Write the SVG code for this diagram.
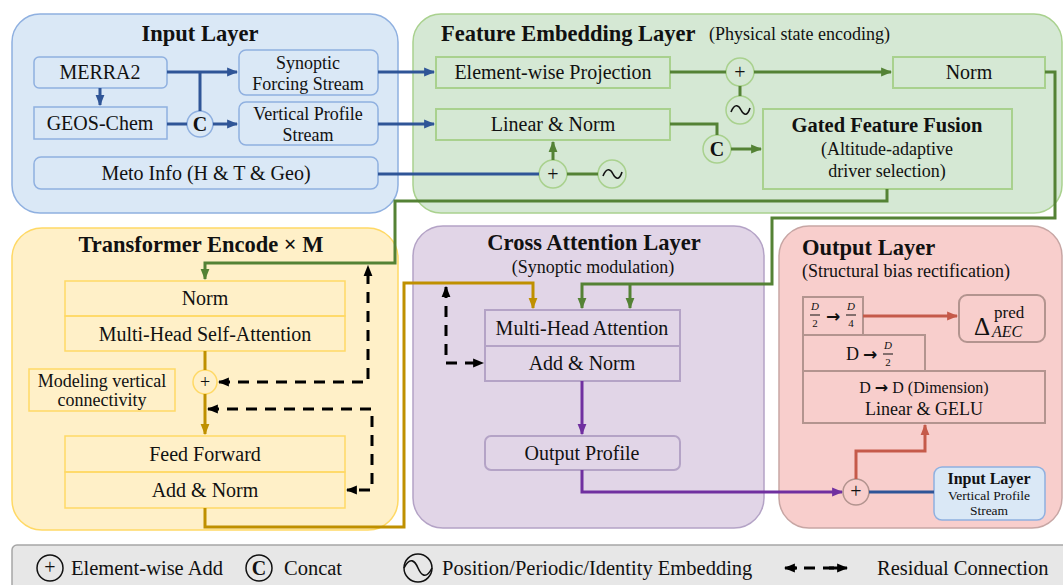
<svg xmlns="http://www.w3.org/2000/svg" width="1063" height="585" viewBox="0 0 1063 585" font-family="'Liberation Serif', Tinos, 'Times New Roman', 'DejaVu Serif', serif">
<defs>
<style>
text{font-family:'Liberation Serif',Tinos,'Times New Roman','DejaVu Serif',serif;fill:#111}
.t{font-size:22.5px;font-weight:bold}
.b{font-size:20px;text-anchor:middle}
.b18{font-size:18px;text-anchor:middle}
.s{font-size:18px}
.m{text-anchor:middle}
.lgd{font-size:20.5px}
.blue{fill:#dae8f6;stroke:#8fb0e0;stroke-width:1.5}
.green{fill:#d5e8d4;stroke:#a9d18e;stroke-width:1.5}
.yel{fill:#fff0c8;stroke:#ffd966;stroke-width:1.5}
.pur{fill:#e1d5e7;stroke:#b4a3c6;stroke-width:1.5}
.red{fill:#f8cecc;stroke:#c7a6a4;stroke-width:1.5}
.gbox{fill:none;stroke:#a9d18e;stroke-width:2}
.ybox{fill:none;stroke:#ffd966;stroke-width:1.5}
.pbox{fill:none;stroke:#b4a3c6;stroke-width:2}
.rbox{fill:none;stroke:#b3948f;stroke-width:2}
.lb{fill:none;stroke:#2f5597;stroke-width:3}
.lg{fill:none;stroke:#548235;stroke-width:3}
.ly{fill:none;stroke:#bf9000;stroke-width:3}
.lp{fill:none;stroke:#7030a0;stroke-width:3}
.lr{fill:none;stroke:#c55a4a;stroke-width:3}
.ld{fill:none;stroke:#000;stroke-width:3;stroke-dasharray:11 8}
.wave{fill:none;stroke:#111;stroke-width:1.6}
.arr{font-family:'DejaVu Sans',sans-serif;font-weight:bold}
</style>
<marker id="ab" viewBox="0 0 10 10" refX="9" refY="5" markerWidth="11" markerHeight="11" markerUnits="userSpaceOnUse" orient="auto-start-reverse"><path d="M0,1 L10,5 L0,9 z" fill="#2f5597"/></marker>
<marker id="ag" viewBox="0 0 10 10" refX="9" refY="5" markerWidth="11" markerHeight="11" markerUnits="userSpaceOnUse" orient="auto-start-reverse"><path d="M0,1 L10,5 L0,9 z" fill="#548235"/></marker>
<marker id="ay" viewBox="0 0 10 10" refX="9" refY="5" markerWidth="11" markerHeight="11" markerUnits="userSpaceOnUse" orient="auto-start-reverse"><path d="M0,1 L10,5 L0,9 z" fill="#bf9000"/></marker>
<marker id="ap" viewBox="0 0 10 10" refX="9" refY="5" markerWidth="11" markerHeight="11" markerUnits="userSpaceOnUse" orient="auto-start-reverse"><path d="M0,1 L10,5 L0,9 z" fill="#7030a0"/></marker>
<marker id="ar" viewBox="0 0 10 10" refX="9" refY="5" markerWidth="11" markerHeight="11" markerUnits="userSpaceOnUse" orient="auto-start-reverse"><path d="M0,1 L10,5 L0,9 z" fill="#c55a4a"/></marker>
<marker id="ak" viewBox="0 0 10 10" refX="9" refY="5" markerWidth="11" markerHeight="11" markerUnits="userSpaceOnUse" orient="auto-start-reverse"><path d="M0,1 L10,5 L0,9 z" fill="#000"/></marker>
</defs>

<!-- Panels -->
<g id="input-layer">
<rect x="12" y="14" width="386" height="199" rx="28" class="blue"/>
<text x="200" y="41" class="t m">Input Layer</text>
</g>
<g id="feature-embedding-layer">
<rect x="413" y="14" width="649" height="199" rx="28" class="green"/>
<text x="441" y="41" class="t">Feature Embedding Layer</text>
<text x="709" y="40" class="s">(Physical state encoding)</text>
</g>
<g id="transformer-encoder">
<rect x="12" y="228" width="386" height="302" rx="30" class="yel"/>
<text x="201" y="252" class="t m">Transformer Encode × M</text>
</g>
<g id="cross-attention-layer">
<rect x="413" y="226" width="351" height="302" rx="30" class="pur"/>
<text x="594" y="250" class="t m">Cross Attention Layer</text>
<text x="593" y="273" class="s m">(Synoptic modulation)</text>
</g>
<g id="output-layer">
<rect x="779" y="226" width="283" height="302" rx="30" class="red"/>
<text x="802" y="255" class="t">Output Layer</text>
<text x="802" y="277" class="s">(Structural bias rectification)</text>
</g>

<!-- Input layer nodes -->
<g id="merra2"><rect x="34" y="57" width="133" height="31" rx="5" class="blue"/><text x="100" y="79" class="b">MERRA2</text></g>
<g id="geos-chem"><rect x="34" y="107" width="133" height="32" class="blue"/><text x="100" y="130" class="b">GEOS-Chem</text></g>
<g id="synoptic-stream"><rect x="239" y="50" width="139" height="45" rx="7" class="blue"/><text x="308" y="69" class="b18">Synoptic</text><text x="308" y="90" class="b18">Forcing Stream</text></g>
<g id="vertical-stream"><rect x="239" y="102" width="139" height="43" rx="7" class="blue"/><text x="308" y="120" class="b18">Vertical Profile</text><text x="308" y="141" class="b18">Stream</text></g>
<g id="meto-info"><rect x="34" y="157" width="344" height="32" rx="7" class="blue"/><text x="206" y="180" class="b">Meto Info (H &amp; T &amp; Geo)</text></g>
<g id="concat-1"><circle cx="200" cy="124" r="13" class="blue"/><text x="200" y="131" class="m" style="font-size:20px;font-weight:bold">C</text></g>

<!-- Feature embedding nodes -->
<g id="elementwise-projection"><rect x="436" y="57" width="234" height="31" class="gbox"/><text x="553" y="79" class="b">Element-wise Projection</text></g>
<g id="add-1"><circle cx="740" cy="72" r="14" class="green"/><text x="740" y="79" class="b">+</text></g>
<g id="embed-1"><circle cx="740" cy="110" r="14" class="green"/><path d="M731,112 C735,102 739,106 741,110 C743,114 747,118 750,108" class="wave"/></g>
<g id="norm-fe"><rect x="893" y="57" width="152" height="31" class="gbox"/><text x="969" y="79" class="b">Norm</text></g>
<g id="linear-norm"><rect x="436" y="109" width="234" height="31" class="gbox"/><text x="553" y="131" class="b">Linear &amp; Norm</text></g>
<g id="concat-2"><circle cx="717" cy="149" r="14" class="green"/><text x="717" y="156" class="m" style="font-size:20px;font-weight:bold">C</text></g>
<g id="gated-fusion"><rect x="763" y="109" width="249" height="80" class="gbox"/><text x="887" y="132" class="m" style="font-size:20.5px;font-weight:bold">Gated Feature Fusion</text><text x="887" y="155" class="s m">(Altitude-adaptive</text><text x="887" y="177" class="s m">driver selection)</text></g>
<g id="add-2"><circle cx="553" cy="174" r="14" class="green"/><text x="553" y="181" class="b">+</text></g>
<g id="embed-2"><circle cx="612" cy="174" r="14" class="green"/><path d="M603,176 C607,166 611,170 613,174 C615,178 619,182 622,172" class="wave"/></g>

<!-- Transformer nodes -->
<g id="norm-tr"><rect x="65" y="281" width="280" height="35" class="ybox"/><text x="205" y="305" class="b">Norm</text></g>
<g id="mhsa"><rect x="65" y="316" width="280" height="35" class="ybox"/><text x="205" y="341" class="b">Multi-Head Self-Attention</text></g>
<g id="add-tr"><circle cx="205" cy="382" r="12" class="yel"/><text x="205" y="388" class="b18">+</text></g>
<g id="modeling-note"><rect x="29" y="369" width="146" height="42" class="ybox"/><text x="102" y="387" class="s m">Modeling vertical</text><text x="102" y="406" class="s m">connectivity</text></g>
<g id="feed-forward"><rect x="65" y="436" width="280" height="36" class="ybox"/><text x="205" y="461" class="b">Feed Forward</text></g>
<g id="add-norm-tr"><rect x="65" y="472" width="280" height="36" class="ybox"/><text x="205" y="497" class="b">Add &amp; Norm</text></g>

<!-- Cross attention nodes -->
<g id="mha"><rect x="485" y="310" width="195" height="36" class="pbox"/><text x="582" y="335" class="b">Multi-Head Attention</text></g>
<g id="add-norm-ca"><rect x="485" y="346" width="195" height="35" class="pbox"/><text x="582" y="370" class="b">Add &amp; Norm</text></g>
<g id="output-profile"><rect x="485" y="436" width="195" height="34" rx="6" class="pbox"/><text x="582" y="460" class="b">Output Profile</text></g>

<!-- Output nodes -->
<g id="d2-d4"><rect x="803" y="297" width="60" height="38" class="rbox"/>
<text x="815" y="310" class="m" style="font-size:11px;font-style:italic">D</text><line x1="810" y1="315" x2="820" y2="315" stroke="#111" stroke-width="1"/><text x="815" y="327" class="m" style="font-size:11px">2</text>
<text x="833" y="322" class="m arr" style="font-size:17px">→</text>
<text x="851" y="310" class="m" style="font-size:11px;font-style:italic">D</text><line x1="846" y1="315" x2="856" y2="315" stroke="#111" stroke-width="1"/><text x="851" y="327" class="m" style="font-size:11px">4</text></g>
<g id="delta-pred"><rect x="959" y="295" width="86" height="47" rx="8" class="rbox"/>
<text x="974" y="335" style="font-size:25px">Δ</text><text x="994" y="318" style="font-size:17px">pred</text><text x="992" y="337" style="font-size:16px;font-style:italic">AEC</text></g>
<g id="d-d2"><rect x="803" y="335" width="122" height="36" class="rbox"/>
<text x="846" y="360" style="font-size:18px">D</text><text x="870" y="360" class="m arr" style="font-size:17px">→</text>
<text x="888" y="349" class="m" style="font-size:11px;font-style:italic">D</text><line x1="883" y1="354" x2="893" y2="354" stroke="#111" stroke-width="1"/><text x="888" y="366" class="m" style="font-size:11px">2</text></g>
<g id="linear-gelu"><rect x="803" y="371" width="242" height="52" class="rbox"/>
<text x="924" y="393" class="m" style="font-size:16px">D <tspan class="arr">→</tspan> D (Dimension)</text><text x="924" y="415" class="b18">Linear &amp; GELU</text></g>
<g id="add-out"><circle cx="856" cy="492" r="13" fill="#f8cecc" stroke="#b3948f" stroke-width="1.5"/><text x="856" y="498" class="b">+</text></g>
<g id="input-ref"><rect x="934" y="467" width="111" height="53" rx="8" class="blue"/><text x="989" y="484" class="m" style="font-size:16px;font-weight:bold">Input Layer</text><text x="989" y="500" class="m" style="font-size:13.5px">Vertical Profile</text><text x="989" y="515" class="m" style="font-size:13.5px">Stream</text></g>

<!-- Connectors -->
<g id="connectors">
<path d="M100,88 V105" class="lb" marker-end="url(#ab)"/>
<path d="M167,72 H237" class="lb" marker-end="url(#ab)"/>
<path d="M200,72 V111" class="lb"/>
<path d="M167,124 H187" class="lb"/>
<path d="M213,124 H237" class="lb" marker-end="url(#ab)"/>
<path d="M378,72 H434" class="lb" marker-end="url(#ab)"/>
<path d="M378,124 H434" class="lb" marker-end="url(#ab)"/>
<path d="M378,174 H539" class="lb"/>

<path d="M670,72 H726" class="lg"/>
<path d="M754,72 H891" class="lg" marker-end="url(#ag)"/>
<path d="M740,86 V96" class="lg"/>
<path d="M670,124 H717 V135" class="lg"/>
<path d="M731,149 H761" class="lg" marker-end="url(#ag)"/>
<path d="M567,174 H598" class="lg"/>
<path d="M553,160 V142" class="lg" marker-end="url(#ag)"/>
<path d="M887,189 V201 H395 V263 H205 V279" class="lg" marker-end="url(#ag)"/>
<path d="M1045,72 H1055 V218 H772 V284 H582 V308" class="lg" marker-end="url(#ag)"/>
<path d="M630,284 V308" class="lg" marker-end="url(#ag)"/>

<path d="M205,351 V370" class="ly"/>
<path d="M205,394 V434" class="ly" marker-end="url(#ay)"/>
<path d="M205,508 V527 H404 V283 H533 V308" class="ly" marker-end="url(#ay)"/>

<path d="M219,382 H368 V266" class="ld" marker-start="url(#ak)" marker-end="url(#ak)"/>
<path d="M208,409 H372 V490 H347" class="ld" marker-start="url(#ak)" marker-end="url(#ak)"/>
<path d="M446,287 V363 H483" class="ld" marker-start="url(#ak)" marker-end="url(#ak)"/>

<path d="M582,381 V434" class="lp" marker-end="url(#ap)"/>
<path d="M582,470 V492 H842" class="lp" marker-end="url(#ap)"/>

<path d="M863,316 H957" class="lr" marker-end="url(#ar)"/>
<path d="M856,479 V451 H925 V425" class="lr" marker-end="url(#ar)"/>
<path d="M869,492 H934" class="lb"/>
</g>

<!-- Legend -->
<g id="legend">
<rect x="12" y="545" width="1062" height="48" rx="5" fill="#e7e7e7" stroke="#a6a6a6" stroke-width="1.5"/>
<circle cx="50" cy="568" r="13" fill="none" stroke="#111" stroke-width="1.5"/><text x="50" y="574" class="b">+</text>
<text x="71" y="575" class="lgd">Element-wise Add</text>
<circle cx="259" cy="568" r="13" fill="none" stroke="#111" stroke-width="1.5"/><text x="259" y="575" class="m" style="font-size:20px;font-weight:bold">C</text>
<text x="284" y="575" class="lgd">Concat</text>
<circle cx="418" cy="568" r="14" fill="none" stroke="#111" stroke-width="1.5"/><path d="M404,568 C410,556 415,561 418,568 C421,575 426,580 432,568" class="wave"/>
<text x="442" y="575" class="lgd">Position/Periodic/Identity Embedding</text>
<path d="M785,568 H847" class="ld" stroke-dasharray="0 14 12 40" marker-start="url(#ak)" marker-end="url(#ak)"/>
<path d="M788,568 H797 M829,568 H838" stroke="#000" stroke-width="3"/>
<text x="877" y="575" class="lgd">Residual Connection</text>
</g>
</svg>
